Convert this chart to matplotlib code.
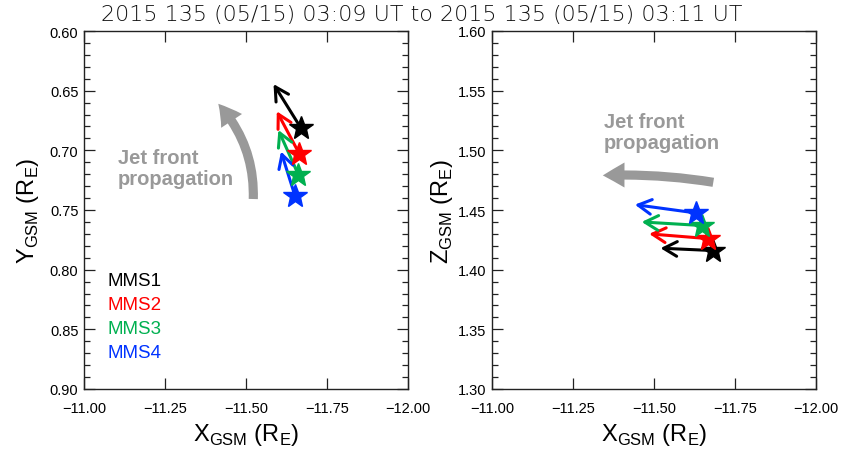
import matplotlib
matplotlib.use("Agg")
import matplotlib.pyplot as plt
from matplotlib.ticker import MultipleLocator, FuncFormatter

plt.rcParams['font.family'] = ['Liberation Sans', 'DejaVu Sans']

# ---- data ----
names = ['MMS1', 'MMS2', 'MMS3', 'MMS4']
colors = ['#000000', '#ff0000', '#00b050', '#0033ff']

# left panel (X-Y): star position -> arrow tip
xy_x_start = [-11.670, -11.665, -11.662, -11.651]
xy_y_start = [0.6815, 0.7031, 0.7207, 0.7380]
xy_x_end = [-11.585, -11.595, -11.600, -11.608]
xy_y_end = [0.6445, 0.6673, 0.6830, 0.7010]

# right panel (X-Z)
xz_x_start = [-11.683, -11.668, -11.647, -11.630]
xz_z_start = [1.4160, 1.4260, 1.4370, 1.4475]
xz_x_end = [-11.520, -11.485, -11.462, -11.441]
xz_z_end = [1.4180, 1.4300, 1.4400, 1.4545]

# jet front propagation arrows (tail -> tip)
jet_xy = [(-11.5225, 0.7408), (-11.4145, 0.6610)]
jet_xz = [(-11.683, 1.4732), (-11.342, 1.4790)]

x_ticks = [-11.00, -11.25, -11.50, -11.75, -12.00]
title = '2015 135 (05/15) 03:09 UT to 2015 135 (05/15) 03:11 UT'

gray = '#999999'

fig = plt.figure(figsize=(8.45, 4.52), dpi=100)
ax1 = fig.add_axes([84/845, 1-390/452, 324/845, 358/452])
ax2 = fig.add_axes([492/845, 1-390/452, 324/845, 358/452])

fmt = FuncFormatter(lambda v, p: ('%.2f' % v).replace('-', '\u2212'))


def style(ax):
    ax.set_xlim(-11.0, -12.0)
    ax.set_xticks(x_ticks)
    ax.xaxis.set_major_formatter(fmt)
    ax.yaxis.set_major_locator(MultipleLocator(0.05))
    ax.yaxis.set_minor_locator(MultipleLocator(0.01))
    ax.yaxis.set_major_formatter(fmt)
    ax.tick_params(axis='both', which='both', direction='in', top=True,
                   right=True, labelsize=10.5, color='#222222')
    ax.tick_params(axis='both', which='major', length=8, width=0.9)
    ax.tick_params(axis='y', which='minor', length=4, width=0.9)
    ax.tick_params(axis='x', which='major', pad=9)
    ax.tick_params(axis='y', which='major', pad=4)
    for s in ax.spines.values():
        s.set_linewidth(1.0)
        s.set_color('#222222')
    ax.set_xlabel('X$_\\mathregular{GSM}$ (R$_\\mathregular{E}$)', fontsize=17, labelpad=4)


style(ax1)
style(ax2)
ax1.set_ylim(0.90, 0.60)
ax2.set_ylim(1.30, 1.60)
ax1.set_ylabel('Y$_\\mathregular{GSM}$ (R$_\\mathregular{E}$)', fontsize=17, labelpad=6)
ax2.set_ylabel('Z$_\\mathregular{GSM}$ (R$_\\mathregular{E}$)', fontsize=17, labelpad=2)

astyle = '->,head_length=0.6,head_width=0.33'
for i in range(4):
    ax1.annotate('', xy=(xy_x_end[i], xy_y_end[i]), xytext=(xy_x_start[i], xy_y_start[i]),
                 arrowprops=dict(arrowstyle=astyle, lw=2.2,
                                 color=colors[i], shrinkA=0, shrinkB=0,
                                 mutation_scale=16))
    ax2.annotate('', xy=(xz_x_end[i], xz_z_end[i]), xytext=(xz_x_start[i], xz_z_start[i]),
                 arrowprops=dict(arrowstyle=astyle, lw=2.2,
                                 color=colors[i], shrinkA=0, shrinkB=0,
                                 mutation_scale=16))
for i in range(4):
    ax1.plot(xy_x_start[i], xy_y_start[i], marker='*', ms=18, color=colors[i],
             mec=colors[i], zorder=5)
    ax2.plot(xz_x_start[i], xz_z_start[i], marker='*', ms=18, color=colors[i],
             mec=colors[i], zorder=5)

# legend text
for i, n in enumerate(names):
    ax1.text(108/845, 1-(282+24*i)/452, n, transform=fig.transFigure, color=colors[i],
             fontsize=13.5, va='center', ha='left')

# jet front arrows
jstyle = 'simple,head_width=1.5,head_length=1.3,tail_width=0.55'
ax1.annotate('', xy=jet_xy[1], xytext=jet_xy[0],
             arrowprops=dict(arrowstyle=jstyle, color=gray, shrinkA=0, shrinkB=0,
                             mutation_scale=12, connectionstyle='arc3,rad=0.2', lw=0))
ax2.annotate('', xy=jet_xz[1], xytext=jet_xz[0],
             arrowprops=dict(arrowstyle=jstyle, color=gray, shrinkA=0, shrinkB=0,
                             mutation_scale=12, connectionstyle='arc3,rad=0.05', lw=0))

fig.text(118/845, 1-169/452, 'Jet front\npropagation', color=gray, fontsize=14.5,
         fontweight='bold', ha='left', va='center', linespacing=1.1)
fig.text(604/845, 1-133/452, 'Jet front\npropagation', color=gray, fontsize=14.5,
         fontweight='bold', ha='left', va='center', linespacing=1.1)

fig.text(422/845, 1-15/452, title, ha='center', va='center', fontsize=16,
         family='DejaVu Sans', fontweight='light', color='#111111')

fig.savefig('out.png', dpi=100)
